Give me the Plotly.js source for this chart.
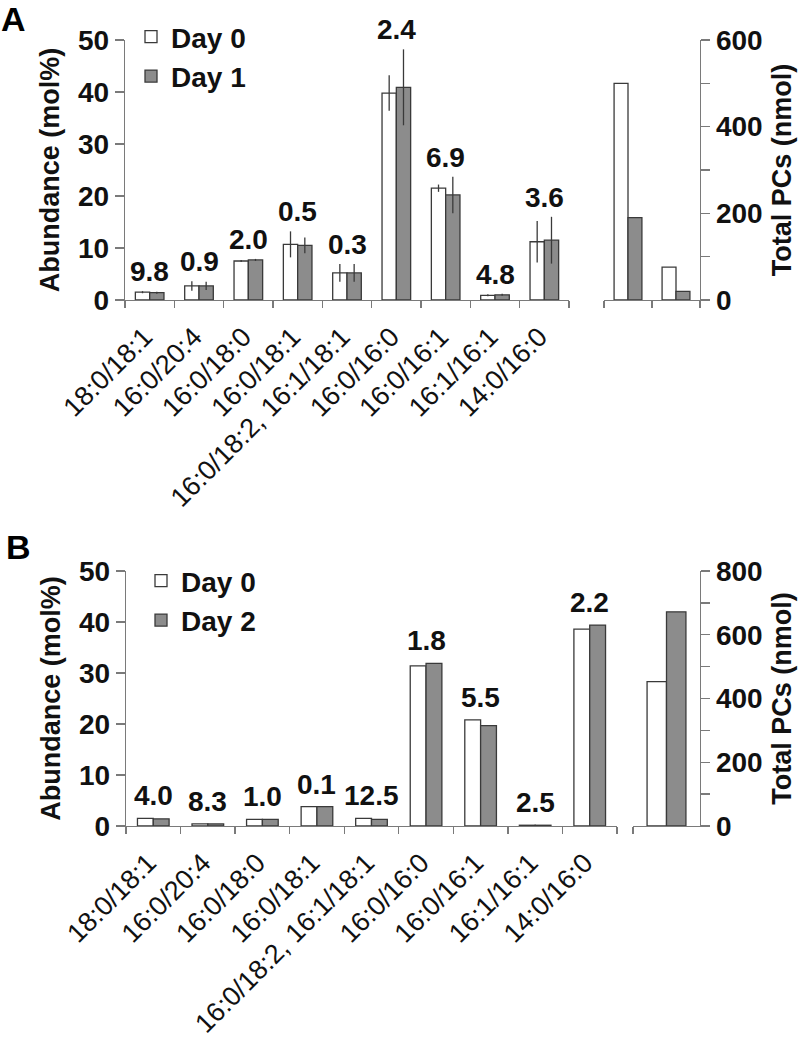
<!DOCTYPE html>
<html>
<head>
<meta charset="utf-8">
<script src="https://cdn.plot.ly/plotly-3.0.1.min.js"></script>
<style>html,body{margin:0;padding:0;background:#fff;}#chart{width:800px;height:1042px;}</style>
</head>
<body>
<div id="chart"></div>
<script>
// ---------- data ----------
const species = ["18:0/18:1", "16:0/20:4", "16:0/18:0", "16:0/18:1", "16:0/18:2, 16:1/18:1", "16:0/16:0", "16:0/16:1", "16:1/16:1", "14:0/16:0"];

// Panel A (Day 0 vs Day 1)
const aDay0 = [1.5, 2.7, 7.5, 10.7, 5.2, 39.8, 21.5, 0.9, 11.2];
const aDay0Err = [0.2, 0.9, 0.2, 2.5, 1.7, 3.4, 0.7, 0.2, 4.0];
const aDay1 = [1.4, 2.7, 7.7, 10.5, 5.2, 40.9, 20.2, 1.0, 11.5];
const aDay1Err = [0.2, 0.8, 0.2, 1.5, 1.7, 7.3, 3.5, 0.2, 4.5];
const aFold = ["9.8", "0.9", "2.0", "0.5", "0.3", "2.4", "6.9", "4.8", "3.6"];
const aTotalCats = ["total 1", "total 2"];
const aTotalDay0 = [500, 76];
const aTotalDay1 = [190, 20];

// Panel B (Day 0 vs Day 2)
const bDay0 = [1.5, 0.4, 1.3, 3.8, 1.5, 31.4, 20.8, 0.15, 38.6];
const bDay2 = [1.4, 0.4, 1.3, 3.8, 1.3, 31.9, 19.7, 0.15, 39.4];
const bFold = ["4.0", "8.3", "1.0", "0.1", "12.5", "1.8", "5.5", "2.5", "2.2"];
const bTotalCats = ["total"];
const bTotalDay0 = [453];
const bTotalDay2 = [672];

const leftTicks = [0, 10, 20, 30, 40, 50];
const rightTicksA = [0, 100, 200, 300, 400, 500, 600];
const rightTicksB = [0, 100, 200, 300, 400, 500, 600, 700, 800];

// ---------- geometry helpers ----------
const W = 800, H = 1042;
const M = {l: 125, r: 100, t: 40, b: 216};
const PW = W - M.l - M.r, PH = H - M.t - M.b;
const px = v => (v - M.l) / PW;
const py = v => (H - M.b - v) / PH;

const FONT = "Liberation Sans, Arial, sans-serif";
const TXT = "#111";
const AX = "#7a7a7a";
const EDGE = "#3a3a3a";
const GRAY = "#8c8c8c";

function bar(name, x, y, xa, ya, fill, err, legend, show) {
  const t = {
    type: "bar", name: name, x: x, y: y, xaxis: xa, yaxis: ya,
    marker: {color: fill, line: {color: EDGE, width: 1.3}},
    legend: legend, showlegend: show, hoverinfo: "x+y"
  };
  if (err) t.error_y = {type: "data", array: err, visible: true, width: 0, thickness: 1.3, color: EDGE};
  return t;
}

const data = [
  bar("Day 0", species, aDay0, "x", "y", "#ffffff", aDay0Err, "legend", true),
  bar("Day 1", species, aDay1, "x", "y", GRAY, aDay1Err, "legend", true),
  bar("Day 0", aTotalCats, aTotalDay0, "x2", "y2", "#ffffff", null, "legend", false),
  bar("Day 1", aTotalCats, aTotalDay1, "x2", "y2", GRAY, null, "legend", false),
  bar("Day 0", species, bDay0, "x3", "y3", "#ffffff", null, "legend2", true),
  bar("Day 2", species, bDay2, "x3", "y3", GRAY, null, "legend2", true),
  bar("Day 0", bTotalCats, bTotalDay0, "x4", "y4", "#ffffff", null, "legend2", false),
  bar("Day 2", bTotalCats, bTotalDay2, "x4", "y4", GRAY, null, "legend2", false)
];

const tickFontB = {family: FONT, size: 28, color: TXT, weight: "bold"};
const titleFont = {family: FONT, size: 27, color: TXT, weight: "bold"};
const catFont = {family: FONT, size: 27, color: TXT};

function catAxis(domain, anchor, labels) {
  return {
    domain: domain, anchor: anchor, type: "category",
    tickson: "boundaries", ticks: "outside", ticklen: 7, tickwidth: 1.3, tickcolor: AX,
    showline: true, linecolor: AX, linewidth: 1.3,
    showgrid: false, zeroline: false, fixedrange: true,
    showticklabels: labels, tickangle: -45, tickfont: catFont,
    ticklabelstandoff: 9, ticklabelshift: -5
  };
}
function valAxis(domain, anchor, side, range, tickvals, ticktext, title) {
  return {
    domain: domain, anchor: anchor, side: side, range: range,
    tickmode: "array", tickvals: tickvals, ticktext: ticktext,
    ticks: "outside", ticklen: 9, tickwidth: 1.3, tickcolor: AX,
    showline: true, linecolor: AX, linewidth: 1.3,
    showgrid: false, zeroline: false, fixedrange: true,
    tickfont: tickFontB,
    title: {text: title, font: titleFont, standoff: 10}
  };
}
const rightText = ticks => ticks.map(v => (v % 200 === 0 ? String(v) : ""));

const annFont = {family: FONT, size: 28, color: TXT, weight: "bold"};
const annotations = [];
species.forEach((s, i) => {
  const topA = Math.max(aDay0[i] + aDay0Err[i], aDay1[i] + aDay1Err[i]);
  annotations.push({xref: "x", yref: "y", x: s, y: topA, text: aFold[i], showarrow: false,
    yanchor: "bottom", yshift: 2, font: annFont});
  const topB = Math.max(bDay0[i], bDay2[i]);
  annotations.push({xref: "x3", yref: "y3", x: s, y: topB, text: bFold[i], showarrow: false,
    yanchor: "bottom", yshift: 5, font: annFont});
});
annotations.push({xref: "paper", yref: "paper", x: px(-1), y: py(-2), xanchor: "left", yanchor: "top",
  text: "A", showarrow: false, font: {family: FONT, size: 34, color: "#000", weight: "bold"}});
annotations.push({xref: "paper", yref: "paper", x: px(4), y: py(526), xanchor: "left", yanchor: "top",
  text: "B", showarrow: false, font: {family: FONT, size: 34, color: "#000", weight: "bold"}});

const legendFont = {family: FONT, size: 28, color: TXT, weight: "bold"};

const layout = {
  width: W, height: H,
  margin: M,
  paper_bgcolor: "#fff", plot_bgcolor: "rgba(0,0,0,0)",
  font: {family: FONT, color: TXT},
  barmode: "group", bargap: 0.42, bargroupgap: 0,
  xaxis: catAxis([0, px(569)], "y", true),
  xaxis2: catAxis([px(604), 1], "y2", false),
  yaxis: valAxis([py(300), 1], "x", "left", [0, 50], leftTicks, leftTicks.map(String), "Abundance (mol%)"),
  yaxis2: valAxis([py(300), 1], "x2", "right", [0, 600], rightTicksA, rightText(rightTicksA), "Total PCs (nmol)"),
  xaxis3: catAxis([px(126), px(617)], "y3", true),
  xaxis4: catAxis([px(633), 1], "y4", false),
  yaxis3: valAxis([0, py(571)], "x3", "left", [0, 50], leftTicks, leftTicks.map(String), "Abundance (mol%)"),
  yaxis4: valAxis([0, py(571)], "x4", "right", [0, 800], rightTicksB, rightText(rightTicksB), "Total PCs (nmol)"),
  legend: {x: px(131), y: py(12), xanchor: "left", yanchor: "top", bgcolor: "rgba(0,0,0,0)",
    font: legendFont, itemwidth: 30, tracegroupgap: 0, traceorder: "normal"},
  legend2: {x: px(141), y: py(556), xanchor: "left", yanchor: "top", bgcolor: "rgba(0,0,0,0)",
    font: legendFont, itemwidth: 30, tracegroupgap: 0, traceorder: "normal"},
  annotations: annotations,
  showlegend: true
};

Plotly.newPlot("chart", data, layout, {staticPlot: true, displayModeBar: false});
</script>
</body>
</html>
